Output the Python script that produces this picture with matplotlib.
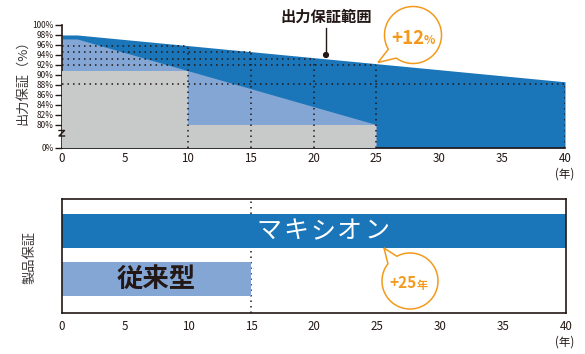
import numpy as np
import matplotlib
matplotlib.use("Agg")
import matplotlib.pyplot as plt
from matplotlib.path import Path
from matplotlib.patches import PathPatch, Circle

plt.rcParams['font.family'] = ['Noto Sans CJK JP', 'DejaVu Sans']

# ---- data ----
# output guarantee, top chart
maxion_x = [0, 1.2, 40]
maxion_y = [98, 98, 88.6]
conv_x = [0, 1.2, 25]
conv_y = [97.2, 97.2, 80]
product_x = [0, 10, 25]
product_y = [90.7, 80, 80]
guide_x = [10, 15, 20, 25, 40]
guide_y = [95.75, 94.5, 93.25, 92, 88.25]
ytick_vals = [0, 80, 82, 84, 86, 88, 90, 92, 94, 96, 98, 100]
xtick_vals = [0, 5, 10, 15, 20, 25, 30, 35, 40]

# product warranty, bottom chart
names = ["従来型", "マキシオン"]
warranty_years = [15, 40]

DARK = '#1a75b9'
LIGHT = '#84a6d4'
GRAY = '#c8c9c9'
ORANGE = '#f39a1d'
INK = '#231815'

W, H = 585, 354
fig = plt.figure(figsize=(W / 100, H / 100), dpi=100)

def frame(x0, y0, x1, y1):
    # pixel box (top-left origin) -> figure fraction rect
    return [x0 / W, 1 - y1 / H, (x1 - x0) / W, (y1 - y0) / H]

# broken y axis: 0..80 squeezed into a small gap
gap = 4.7
def fwd(v):
    v = np.asarray(v, float)
    return np.where(v < 80, v * gap / 80, v - 80 + gap)
def inv(u):
    u = np.asarray(u, float)
    return np.where(u < gap, u * 80 / gap, u + 80 - gap)

# ---- top chart ----
ax = fig.add_axes(frame(62, 25, 565, 148))
ax.set_yscale('function', functions=(fwd, inv))
ax.fill_between(maxion_x, 0, maxion_y, color=DARK, lw=0, zorder=1)
ax.fill_between(conv_x, 0, conv_y, color=LIGHT, lw=0, zorder=2)
ax.fill_between(product_x, 0, product_y, step='post', color=GRAY, lw=0, zorder=3)
ax.hlines(guide_y, 0, guide_x, colors=INK, linestyles=(0, (1, 2.6)), lw=1.1, zorder=4)
ax.vlines(guide_x, 0, guide_y, colors=INK, linestyles=(0, (1, 2.6)), lw=1.1, zorder=4)
ax.set_xlim(0, 40)
ax.set_ylim(0, 100)
ax.set_yticks(ytick_vals)
ax.set_yticklabels([f"{v}%" for v in ytick_vals])
ax.set_xticks(xtick_vals)
ax.tick_params(axis='y', length=5, width=1, pad=1, labelsize=6, colors=INK)
ax.tick_params(axis='x', length=0, pad=3, labelsize=8.3, labelcolor=INK)
ax.spines[['top', 'right']].set_visible(False)
for s in ('left', 'bottom'):
    ax.spines[s].set_color(INK)
    ax.spines[s].set_linewidth(1.2)

# ---- bottom chart ----
ax2 = fig.add_axes(frame(62, 199, 566, 313))
ax2.axvline(15, color=INK, ls=(0, (1, 2.6)), lw=1.1, zorder=0)
ax2.barh([1], [warranty_years[1]], height=0.708, color=DARK, zorder=2)
ax2.barh([0], [warranty_years[0]], height=0.708, color=LIGHT, zorder=2)
ax2.set_xlim(0, 40)
ax2.set_ylim(-0.708, 1.667)
ax2.set_yticks([])
ax2.set_xticks(xtick_vals)
ax2.tick_params(axis='x', length=0, pad=5, labelsize=8.3, labelcolor=INK)
for s in ax2.spines.values():
    s.set_color(INK)
    s.set_linewidth(1.2)

pitch = 27 * 0.72
for i, ch in enumerate(names[1]):
    ax2.annotate(ch, xy=(20.7, 1), xytext=((i - 2) * pitch, 0), textcoords='offset points',
                 ha='center', va='center', color='white', fontsize=18, zorder=5)
ax2.text(warranty_years[0] / 2, 0, names[0], ha='center', va='center',
         color=INK, fontsize=19, fontweight='bold', zorder=5)

# ---- labels and callouts (pixel overlay) ----
ov = fig.add_axes([0, 0, 1, 1], zorder=10)
ov.set_xlim(0, W)
ov.set_ylim(H, 0)
ov.axis('off')
ov.patch.set_alpha(0)

ov.text(23, 79, "出力保証（%）", rotation=90, ha='center', va='center', fontsize=9.5, color='#3e3a39')
ov.text(30, 258, "製品保証", rotation=90, ha='center', va='center', fontsize=9.5, color='#3e3a39')
ov.text(565, 174, "(年)", ha='center', va='center', fontsize=8.3, color=INK)
ov.text(565, 342, "(年)", ha='center', va='center', fontsize=8.3, color=INK)

# axis break mark
ov.plot([59, 64.5, 59, 64.5], [130.5, 130.5, 136, 136], color=INK, lw=1)

# leader for the guarantee range
ov.text(326, 17, "出力保証範囲", ha='center', va='center', fontsize=11, fontweight='bold', color=INK)
ov.plot([326, 326], [28, 55], color=INK, lw=1)
ov.add_patch(Circle((326, 55), 2.4, color=INK))

def bubble(cx, cy, r, tip, a0, a1):
    # circle with a tail, angles in degrees (y pointing down)
    t = np.radians(np.linspace(a1, a0 + 360, 120))
    pts = [(cx + r * np.cos(a), cy + r * np.sin(a)) for a in t]
    pts = [tip] + pts + [tip]
    ov.add_patch(PathPatch(Path(pts), facecolor='white', edgecolor=ORANGE, lw=1.1, zorder=3))

bubble(413, 35, 28.5, (378, 62.5), 126, 150)
ov.text(424, 43.5, "+12", ha='right', va='baseline', fontsize=13.5, fontweight='bold', color=ORANGE, zorder=4)
ov.text(424, 43.5, "%", ha='left', va='baseline', fontsize=8.5, fontweight='bold', color=ORANGE, zorder=4)

bubble(410, 281, 28, (384, 248), 218, 242)
ov.text(416.5, 288.5, "+25", ha='right', va='baseline', fontsize=11, fontweight='bold', color=ORANGE, zorder=4)
ov.text(416.5, 288.5, "年", ha='left', va='baseline', fontsize=8, fontweight='bold', color=ORANGE, zorder=4)

fig.savefig("out.png", dpi=100)
